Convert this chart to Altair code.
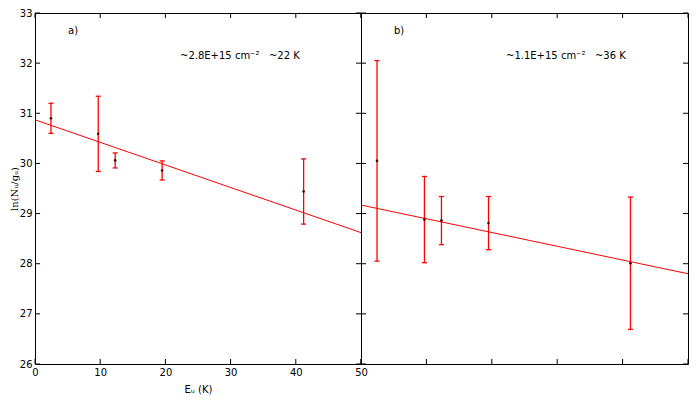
import altair as alt
import pandas as pd

# ---- data ----
E_u = [2.45, 9.7, 12.3, 19.5, 41.2]
a_val = [30.90, 30.59, 30.06, 29.86, 29.44]
a_err = [0.30, 0.75, 0.15, 0.19, 0.65]
b_val = [30.05, 28.88, 28.86, 28.81, 28.01]
b_err = [2.00, 0.86, 0.48, 0.53, 1.32]
fit_E = [0, 50]
fit_a = [30.87, 28.62]
fit_b = [29.17, 27.80]
panel_labels = ["a)", "b)"]
notes = ["~2.8E+15 cm\u207b\u00b2\u00a0\u00a0\u00a0~22 K",
         "~1.1E+15 cm\u207b\u00b2\u00a0\u00a0\u00a0~36 K"]
y_ticks = [26, 27, 28, 29, 30, 31, 32, 33]
x_ticks = [0, 10, 20, 30, 40, 50]

H = 351
TL = 5
RED = "#ff0000"
FONT = "DejaVu Sans"

xs = alt.Scale(domain=[0, 50], nice=False, zero=False)
ys = alt.Scale(domain=[26, 33], nice=False, zero=False)


def panel(vals, errs, fit, label, note, W, first):
    df = pd.DataFrame({
        "E": E_u,
        "v": vals,
        "lo": [v - e for v, e in zip(vals, errs)],
        "hi": [v + e for v, e in zip(vals, errs)],
    })
    fdf = pd.DataFrame({"E": fit_E, "v": fit})
    if first:
        xaxis = alt.Axis(values=x_ticks, tickSize=0, domain=False, grid=False,
                         labelPadding=3, labelFlush=False, format="d",
                         title="E\u1d64 (K)", titleFont=FONT, titleFontSize=10,
                         titleFontWeight="normal", titlePadding=7)
        yaxis = alt.Axis(values=y_ticks, tickSize=0, domain=False, grid=False,
                         labelPadding=3, format="d",
                         title="ln(N\u1d64/g\u1d64)", titleFont="DejaVu Serif",
                         titleFontSize=10, titleFontWeight="normal", titlePadding=0)
    else:
        xaxis = None
        yaxis = None

    X = lambda f: alt.X(f, scale=xs, axis=xaxis)
    Y = lambda f: alt.Y(f, scale=ys, axis=yaxis)

    line = alt.Chart(fdf).mark_line(color=RED, strokeWidth=1, clip=True).encode(
        x=X("E:Q"), y=Y("v:Q"))
    bars = alt.Chart(df).mark_rule(color=RED, strokeWidth=1.3).encode(
        x=X("E:Q"), y=Y("lo:Q"), y2="hi:Q")
    cap_hi = alt.Chart(df).mark_tick(color=RED, orient="horizontal", size=5,
                                     thickness=1.3, opacity=1).encode(
        x=X("E:Q"), y=Y("hi:Q"))
    cap_lo = alt.Chart(df).mark_tick(color=RED, orient="horizontal", size=5,
                                     thickness=1.3, opacity=1).encode(
        x=X("E:Q"), y=Y("lo:Q"))
    pts = alt.Chart(df).mark_circle(color="#400000", size=7, opacity=1).encode(
        x=X("E:Q"), y=Y("v:Q"))

    yt = pd.DataFrame({"t": y_ticks})
    xt = pd.DataFrame({"t": x_ticks})
    tk_l = alt.Chart(yt).mark_rule(color="black", strokeWidth=1).encode(
        y=Y("t:Q"), x=alt.value(0), x2=alt.value(TL))
    tk_r = alt.Chart(yt).mark_rule(color="black", strokeWidth=1).encode(
        y=Y("t:Q"), x=alt.value(W - TL), x2=alt.value(W))
    tk_t = alt.Chart(xt).mark_rule(color="black", strokeWidth=1).encode(
        x=X("t:Q"), y=alt.value(0), y2=alt.value(TL))
    tk_b = alt.Chart(xt).mark_rule(color="black", strokeWidth=1).encode(
        x=X("t:Q"), y=alt.value(H - TL), y2=alt.value(H))

    lab = alt.Chart(pd.DataFrame({"s": [label]})).mark_text(
        align="left", baseline="middle", font=FONT, fontSize=10, color="black").encode(
        x=alt.value(33), y=alt.value(18), text="s:N")
    nt = alt.Chart(pd.DataFrame({"s": [note]})).mark_text(
        align="left", baseline="middle", font=FONT, fontSize=10, color="black").encode(
        x=alt.value(145), y=alt.value(43), text="s:N")

    return alt.layer(line, bars, cap_hi, cap_lo, pts, tk_l, tk_r, tk_t, tk_b, lab, nt
                     ).properties(width=W, height=H)


left = panel(a_val, a_err, fit_a, panel_labels[0], notes[0], 326, True)
right = panel(b_val, b_err, fit_b, panel_labels[1], notes[1], 327, False)

chart = alt.hconcat(left, right, spacing=0, bounds="flush").properties(
    padding={"left": 0, "top": -1, "right": 0, "bottom": 0}
).configure_view(stroke="black", strokeWidth=1).configure_axis(
    labelFont=FONT, labelFontSize=10, labelColor="black", titleColor="black"
)

chart.save("out.html", embed_options={"renderer": "svg", "actions": False})
